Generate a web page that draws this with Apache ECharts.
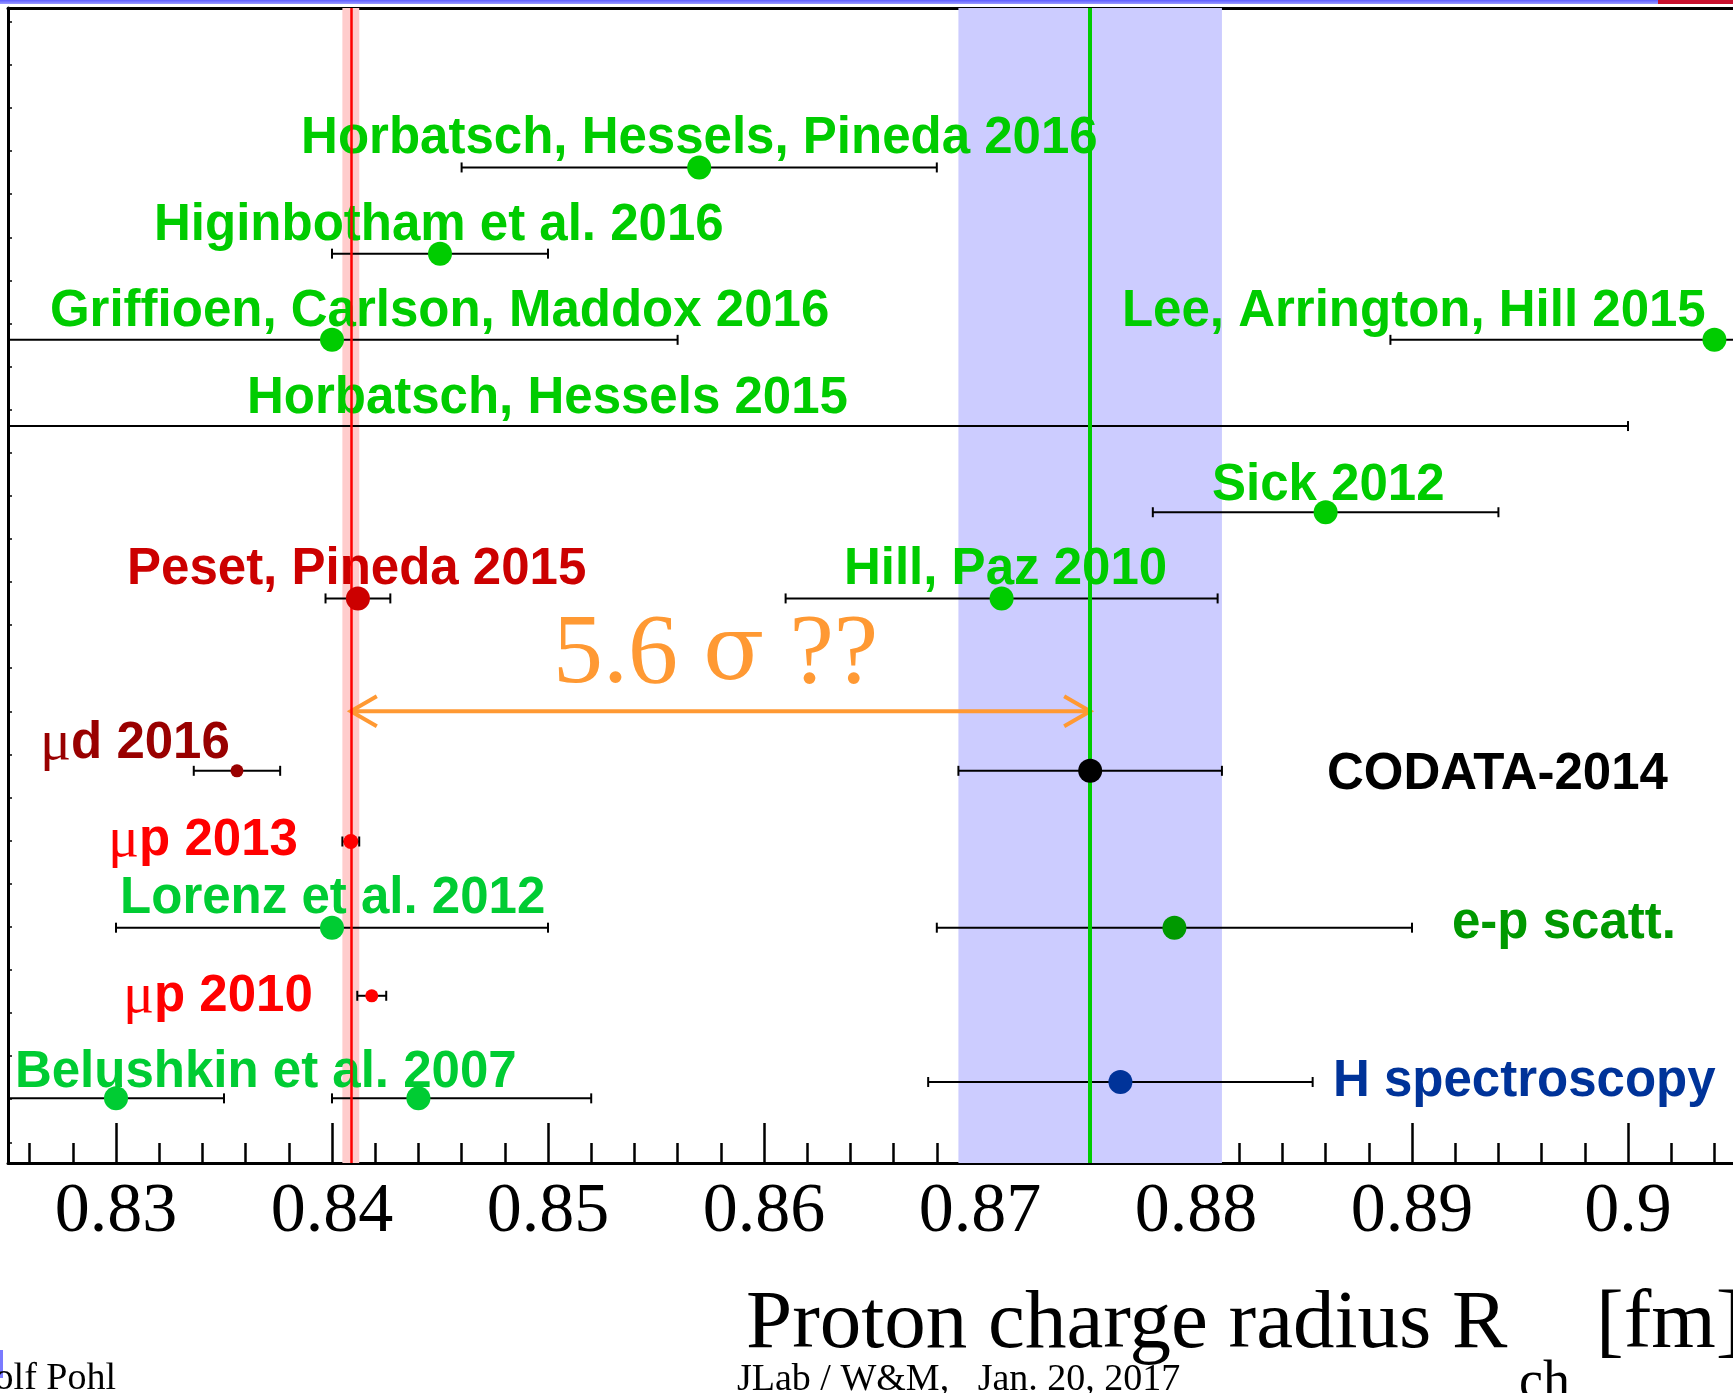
<!DOCTYPE html>
<html>
<head>
<meta charset="utf-8">
<script src="https://cdn.jsdelivr.net/npm/echarts@6/dist/echarts.min.js"></script>
<style>
html, body { margin: 0; padding: 0; background: #fff; }
#chart { width: 1733px; height: 1393px; }
</style>
</head>
<body>
<div id="chart"></div>
<script>
// one entry per error bar (Belushkin 2007 has two values)
const names = ['Horbatsch, Hessels, Pineda 2016', 'Higinbotham et al. 2016', 'Griffioen, Carlson, Maddox 2016',
  'Lee, Arrington, Hill 2015', 'Horbatsch, Hessels 2015', 'Sick 2012', 'Peset, Pineda 2015', 'Hill, Paz 2010',
  'μd 2016', 'CODATA-2014', 'μp 2013', 'Lorenz et al. 2012', 'e-p scatt.', 'μp 2010',
  'Belushkin et al. 2007 (a)', 'Belushkin et al. 2007 (b)', 'H spectroscopy']
const radius = [0.857, 0.845, 0.840, 0.904, null, 0.886, 0.8412, 0.871, 0.8356, 0.8751, 0.84087, 0.840, 0.879, 0.84184, 0.830, 0.844, 0.8765]
const lower  = [0.846, 0.840, 0.824, 0.889, 0.815, 0.878, 0.8397, 0.861, 0.8336, 0.8690, 0.84048, 0.830, 0.868, 0.84117, 0.822, 0.840, 0.8676]
const upper  = [0.868, 0.850, 0.856, 0.919, 0.900, 0.894, 0.8427, 0.881, 0.8376, 0.8812, 0.84126, 0.850, 0.890, 0.84251, 0.835, 0.852, 0.8854]
// vertical slot of each bar (0 = x axis)
const rowPos = [11.55, 10.55, 9.55, 9.55, 8.55, 7.55, 6.55, 6.55, 4.55, 4.55, 3.73, 2.73, 2.73, 1.94, 0.75, 0.75, 0.94]

const tickValues = [0.83, 0.84, 0.85, 0.86, 0.87, 0.88, 0.89, 0.90]
const tickLabels = ['0.83', '0.84', '0.85', '0.86', '0.87', '0.88', '0.89', '0.9']

const IDX_CODATA = 9, IDX_MUP = 10
const arrowRow = 5.24

// styling
const dotColors = ['#00cc00', '#00cc00', '#00cc00', '#00cc00', null, '#00cc00', '#cc0000', '#00cc00',
  '#990000', '#000000', '#ff0000', '#00cc33', '#009900', '#ff0000', '#00cc33', '#00cc33', '#003399']
const dotSizes = [24, 24, 24, 24, 0, 24, 24, 24, 13, 24, 15, 24, 24, 13, 24, 24, 24]

// text labels: [text, x value, row, color]
const labels = [
  ['Horbatsch, Hessels, Pineda 2016', 0.83857, 11.88, '#00cc00'],
  ['Higinbotham et al. 2016', 0.83176, 10.87, '#00cc00'],
  ['Griffioen, Carlson, Maddox 2016', 0.82694, 9.87, '#00cc00'],
  ['Lee, Arrington, Hill 2015', 0.87657, 9.87, '#00cc00'],
  ['Horbatsch, Hessels 2015', 0.83606, 8.87, '#00cc00'],
  ['Sick 2012', 0.88074, 7.86, '#00cc00'],
  ['Peset, Pineda 2015', 0.83051, 6.88, '#cc0000'],
  ['Hill, Paz 2010', 0.8637, 6.88, '#00cc00'],
  ['{mu|μ}d 2016', 0.82648, 4.86, '#990000'],
  ['CODATA-2014', 0.88606, 4.50, '#000000'],
  ['{mu|μ}p 2013', 0.82963, 3.74, '#ff0000'],
  ['Lorenz et al. 2012', 0.83019, 3.06, '#00cc33'],
  ['e-p scatt.', 0.89185, 2.77, '#009900'],
  ['{mu|μ}p 2010', 0.83032, 1.93, '#ff0000'],
  ['Belushkin et al. 2007', 0.82532, 1.04, '#00cc33'],
  ['H spectroscopy', 0.88634, 0.94, '#003399']
]

const minorTicks = []
for (let k = 413; k <= 452; k++) {
  if (k % 5 !== 0) minorTicks.push(+(k * 0.002).toFixed(3))
}
const yTicks = []
for (let k = 0; k < 27; k++) yTicks.push(0.24 + k * 0.5)

const SANS = "'Liberation Sans', Arial, sans-serif"
const SERIF = "'Liberation Serif', 'Times New Roman', serif"

const chart = echarts.init(document.getElementById('chart'))

function renderBar(params, api) {
  const y = api.value(0)
  const a = api.coord([api.value(1), y])
  const b = api.coord([api.value(2), y])
  const st = { stroke: '#000', lineWidth: 2 }
  return {
    type: 'group',
    children: [
      { type: 'line', shape: { x1: a[0], y1: a[1], x2: b[0], y2: b[1] }, style: st },
      { type: 'line', shape: { x1: a[0], y1: a[1] - 5, x2: a[0], y2: a[1] + 5 }, style: st },
      { type: 'line', shape: { x1: b[0], y1: b[1] - 5, x2: b[0], y2: b[1] + 5 }, style: st }
    ]
  }
}

function renderArrow(params, api) {
  const y = api.value(0)
  const a = api.coord([api.value(1), y])
  const b = api.coord([api.value(2), y])
  const st = { stroke: '#ff9933', lineWidth: 4, fill: null }
  return {
    type: 'group',
    children: [
      { type: 'line', shape: { x1: a[0], y1: a[1], x2: b[0], y2: b[1] }, style: st },
      { type: 'polyline', shape: { points: [[a[0] + 26, a[1] - 15], a, [a[0] + 26, a[1] + 15]] }, style: st },
      { type: 'polyline', shape: { points: [[b[0] - 26, b[1] - 15], b, [b[0] - 26, b[1] + 15]] }, style: st }
    ]
  }
}

function renderLabel(params, api) {
  const lab = labels[api.value(2)]
  const p = api.coord([api.value(0), api.value(1)])
  return {
    type: 'text',
    x: p[0], y: p[1],
    style: {
      text: lab[0], fill: lab[3],
      fontSize: 51, fontWeight: 'bold', fontFamily: SANS,
      textAlign: 'left', textVerticalAlign: 'middle',
      rich: { mu: { fontFamily: SERIF, fontWeight: 'normal', fontSize: 58, fill: lab[3] } }
    }
  }
}

function renderSigma(params, api) {
  const p = api.coord([api.value(0), api.value(1)])
  return {
    type: 'text', x: p[0], y: p[1],
    style: {
      text: '5.6 {s|σ} ??', fill: '#ff9933', fontSize: 100, fontFamily: SERIF,
      textAlign: 'left', textVerticalAlign: 'middle',
      rich: { s: { fontFamily: "'DejaVu Serif', serif", fontSize: 90, fill: '#ff9933' } }
    }
  }
}

const option = {
  animation: false,
  backgroundColor: '#fff',
  grid: { left: 8, right: 0, top: 8, bottom: 230 },
  xAxis: [
    {
      type: 'value', min: 0.825, max: 0.90486, position: 'bottom',
      axisLine: { show: true, onZero: false, lineStyle: { color: '#000', width: 3 } },
      axisTick: { show: true, inside: true, length: 40, customValues: tickValues, lineStyle: { color: '#000', width: 2.5 } },
      axisLabel: {
        show: true, customValues: tickValues, margin: 15,
        fontFamily: SERIF, fontSize: 70, color: '#000',
        formatter: v => tickLabels[Math.round((v - 0.83) * 100)]
      },
      splitLine: { show: false }
    },
    {
      type: 'value', min: 0.825, max: 0.90486, position: 'bottom',
      axisLine: { show: false },
      axisTick: { show: true, inside: true, length: 20, customValues: minorTicks, lineStyle: { color: '#000', width: 2.5 } },
      axisLabel: { show: false },
      splitLine: { show: false }
    },
    {
      type: 'value', min: 0.825, max: 0.90486, position: 'top',
      axisLine: { show: true, onZero: false, lineStyle: { color: '#000', width: 3 } },
      axisTick: { show: false }, axisLabel: { show: false }, splitLine: { show: false }
    }
  ],
  yAxis: {
    type: 'value', min: 0, max: 13.4,
    axisLine: { show: true, onZero: false, lineStyle: { color: '#000', width: 3 } },
    axisTick: { show: true, inside: true, length: 4, customValues: yTicks, lineStyle: { color: '#000', width: 1.5 } },
    axisLabel: { show: false },
    splitLine: { show: false }
  },
  series: [
    {
      // bands: CODATA-2014 and muonic hydrogen 2013
      type: 'line', data: [], z: 1, silent: true,
      markArea: {
        silent: true,
        data: [
          [{ xAxis: lower[IDX_CODATA], itemStyle: { color: '#ccccff' } }, { xAxis: upper[IDX_CODATA] }],
          [{ xAxis: lower[IDX_MUP], itemStyle: { color: '#ffcccc' } }, { xAxis: upper[IDX_MUP] }]
        ]
      }
    },
    {
      type: 'custom', z: 2, clip: true, silent: true,
      renderItem: renderBar,
      encode: { x: [1, 2], y: 0 },
      data: rowPos.map((r, i) => [r, lower[i], upper[i]])
    },
    {
      type: 'custom', z: 3, silent: true,
      renderItem: renderLabel,
      encode: { x: 0, y: 1 },
      data: labels.map((l, i) => [l[1], l[2], i])
    },
    {
      type: 'custom', z: 3, silent: true,
      renderItem: renderSigma,
      encode: { x: 0, y: 1 },
      data: [[0.85023, 5.89]]
    },
    {
      type: 'line', data: [], z: 4, silent: true,
      markLine: {
        silent: true, symbol: 'none', precision: 6, label: { show: false },
        data: [
          { xAxis: radius[IDX_CODATA], lineStyle: { color: '#00cc00', width: 4, type: 'solid' } },
          { xAxis: radius[IDX_MUP], lineStyle: { color: '#ff0000', width: 2.5, type: 'solid' } }
        ]
      }
    },
    {
      type: 'custom', z: 4, silent: true,
      renderItem: renderArrow,
      encode: { x: [1, 2], y: 0 },
      data: [[arrowRow, radius[IDX_MUP], radius[IDX_CODATA]]]
    },
    {
      type: 'scatter', z: 5, silent: true, clip: true,
      data: rowPos.map((r, i) => radius[i] == null ? null : {
        value: [radius[i], r],
        symbolSize: dotSizes[i],
        itemStyle: { color: dotColors[i], opacity: 1 }
      }).filter(d => d)
    }
  ],
  graphic: [
    { type: 'rect', shape: { x: 0, y: 0, width: 1733, height: 4 }, silent: true,
      style: { fill: new echarts.graphic.LinearGradient(0, 0, 0, 1, [{ offset: 0, color: '#5c5cff' }, { offset: 1, color: '#9a9aff' }]) } },
    { type: 'rect', shape: { x: 1658, y: 0, width: 75, height: 4 }, silent: true, style: { fill: '#c8102e' } },
    { type: 'rect', shape: { x: 0, y: 1350, width: 3, height: 28 }, silent: true, style: { fill: '#7a7aff' } },
    { type: 'text', x: 746, y: 1325, silent: true,
      style: { text: 'Proton charge radius R', font: '83px ' + SERIF, fill: '#000', textAlign: 'left', textVerticalAlign: 'middle' } },
    { type: 'text', x: 1519, y: 1384, silent: true,
      style: { text: 'ch', font: '54px ' + SERIF, fill: '#000', textAlign: 'left', textVerticalAlign: 'middle' } },
    { type: 'text', x: 1596, y: 1325, silent: true,
      style: { text: '[fm]', font: '83px ' + SERIF, fill: '#000', textAlign: 'left', textVerticalAlign: 'middle' } },
    { type: 'text', x: 737, y: 1380, silent: true,
      style: { text: 'JLab / W&M,   Jan. 20, 2017', font: '38px ' + SERIF, fill: '#000', textAlign: 'left', textVerticalAlign: 'middle' } },
    { type: 'text', x: 116, y: 1379, silent: true,
      style: { text: 'Randolf Pohl', font: '38px ' + SERIF, fill: '#000', textAlign: 'right', textVerticalAlign: 'middle' } }
  ]
}

chart.setOption(option)
window.addEventListener('resize', () => chart.resize())
</script>
</body>
</html>
